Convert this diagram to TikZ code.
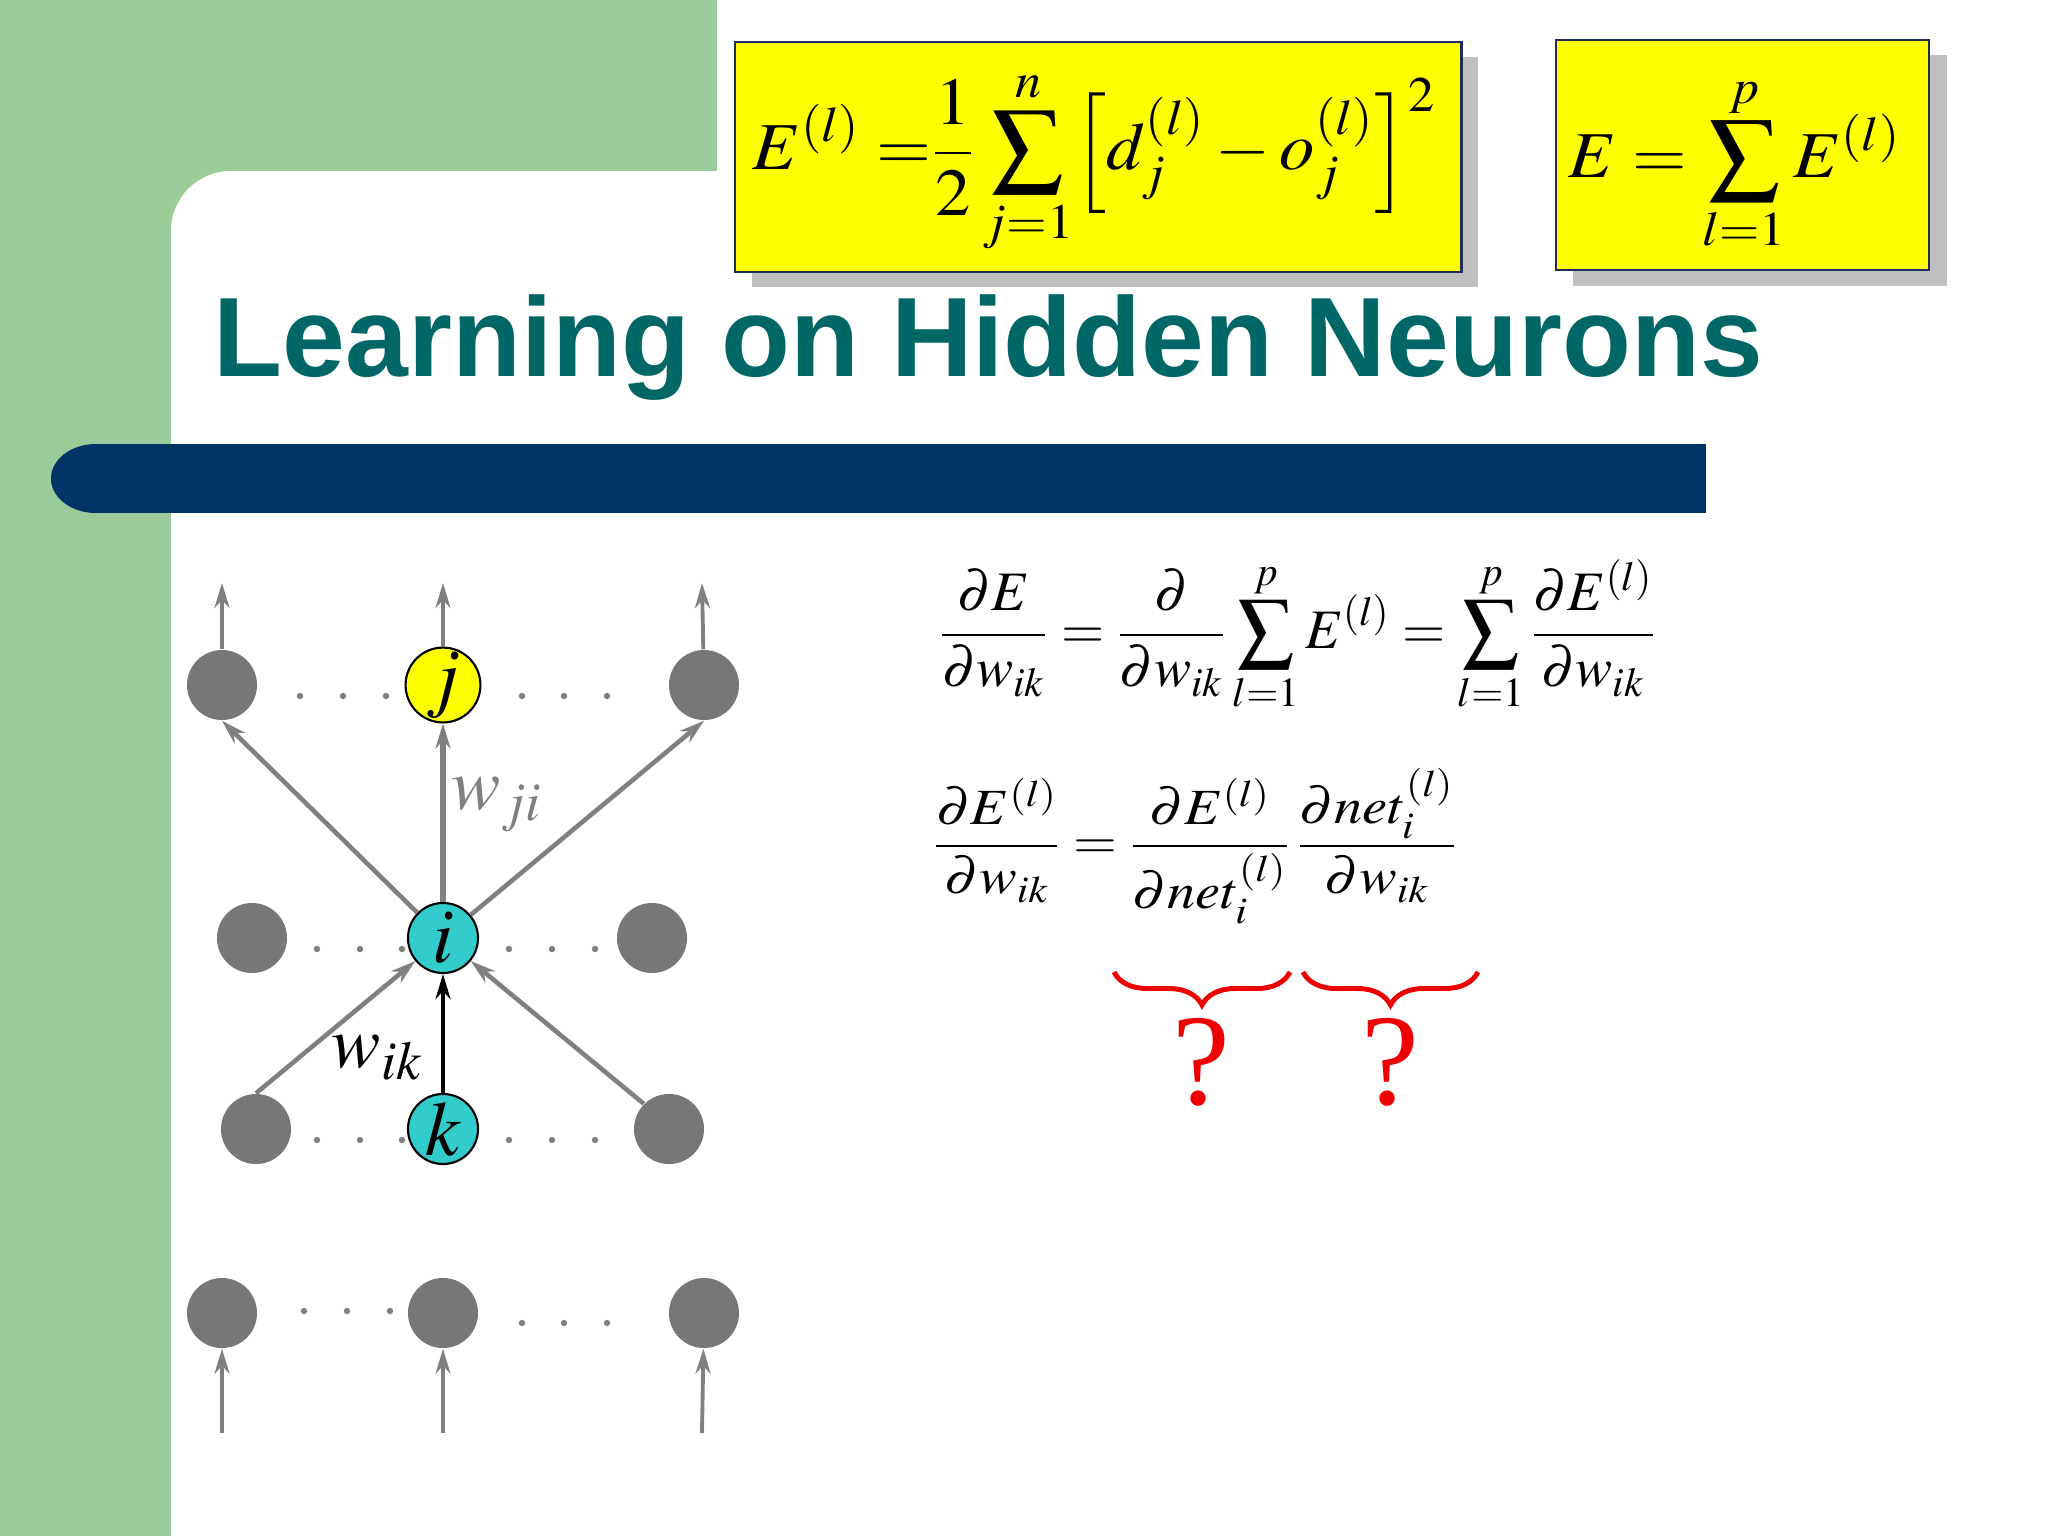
\documentclass[tikz,border=0pt]{standalone}
\usepackage{amsmath}
\usepackage{graphicx}
\usepackage{mathptmx}
\usepackage{fontspec}
\setmainfont{Liberation Serif}
\newfontfamily\titlefont{Liberation Sans}
\usetikzlibrary{arrows.meta,decorations.pathreplacing}
\definecolor{slidegreen}{RGB}{153,204,153}
\definecolor{barblue}{RGB}{0,51,102}
\definecolor{titleteal}{RGB}{0,102,102}
\definecolor{nodegray}{RGB}{119,119,119}
\definecolor{arrowgray}{RGB}{128,128,128}
\definecolor{neurocyan}{RGB}{51,204,204}
\definecolor{boxyellow}{RGB}{255,255,0}
\definecolor{boxborder}{RGB}{31,45,90}
\definecolor{shadowgray}{RGB}{192,192,192}
\definecolor{qred}{RGB}{238,0,0}
\begin{document}
\begin{tikzpicture}[x=0.01cm,y=-0.01cm,
  neuron/.style={circle, minimum size=0.7cm, inner sep=0, fill=nodegray, font=\fontsize{22}{22}\selectfont},
  hineuron/.style={neuron, draw=black, line width=0.6pt},
  garrow/.style={draw=arrowgray, line width=1.1pt, -{Stealth[length=0.25cm,width=0.15cm]}},
  barrow/.style={draw=black, line width=1.4pt, -{Stealth[length=0.25cm,width=0.15cm]}},
  fbox/.style={draw=boxborder, line width=0.6pt, fill=boxyellow, inner sep=0, anchor=north west},
  mathpart/.style={anchor=north west, inner sep=0, font=\fontsize{20}{24}\selectfont},
  qmark/.style={text=qred, inner sep=0, font=\fontsize{37}{40}\selectfont},
  redbrace/.style={draw=qred, line width=1.4pt, decorate, decoration={brace, amplitude=0.33cm, mirror}},
  ]
\useasboundingbox (0,0) rectangle (2048,1536);
% background
\fill[white] (0,0) rectangle (2048,1536);
\fill[slidegreen] (0,0) rectangle (717,1536);
\fill[white] (171,231) rectangle (2048,1536);
\fill[white] (231,171) rectangle (2048,1536);
\fill[white] (231,231) circle (0.6cm);
% blue bar
\fill[barblue] (96,444) rectangle (1706,513);
\fill[barblue] (96,478.5) ellipse [x radius=0.45cm, y radius=0.345cm];
% title
\node[anchor=base west, inner sep=0, text=titleteal, font=\titlefont\bfseries\fontsize{32.1}{36}\selectfont] (title) at (213,376) {Learning on Hidden Neurons};
% yellow boxes
\fill[shadowgray] (752,57) rectangle (1478,287);
\node[fbox, minimum width=7.26cm, minimum height=2.30cm] (box1) at (734,41) {};
\node[mathpart] (eqEl) at (752,69) {\resizebox*{6.83cm}{1.86cm}{$\displaystyle E^{(l)} \;{=}\frac{1}{2}\sum_{j=1}^{n}\Bigl[d_j^{(l)} - o_j^{(l)}\Bigr]^2$}};
\fill[shadowgray] (1573,55) rectangle (1947,286);
\node[fbox, minimum width=3.73cm, minimum height=2.30cm] (box2) at (1555,39) {};
\node[mathpart] (eqE) at (1568,75) {\resizebox*{3.32cm}{1.77cm}{$\displaystyle E = \sum_{l=1}^{p} E^{(l)}$}};
% right equations
\node[mathpart] (eq1) at (938,559) {\resizebox*{7.17cm}{1.53cm}{$\displaystyle \frac{\partial E}{\partial w_{ik}} = \frac{\partial}{\partial w_{ik}} \sum_{l=1}^{p} E^{(l)} = \sum_{l=1}^{p} \frac{\partial E^{(l)}}{\partial w_{ik}}$}};
\node[mathpart] (eq2) at (932,768) {\resizebox*{5.24cm}{1.55cm}{$\displaystyle \frac{\partial E^{(l)}}{\partial w_{ik}} = \frac{\partial E^{(l)}}{\partial net_i^{(l)}}\,\frac{\partial net_i^{(l)}}{\partial w_{ik}}$}};
\coordinate (br1a) at (1114,972); \coordinate (br1b) at (1290,972);
\coordinate (br2a) at (1303,972); \coordinate (br2b) at (1478,972);
\draw[redbrace] (br1a) -- (br1b);
\draw[redbrace] (br2a) -- (br2b);
\node[qmark] (q1) at (1201,1062) {?};
\node[qmark] (q2) at (1390,1062) {?};
% network nodes
\node[neuron] (t1) at (222,685) {};
\node[hineuron, fill=boxyellow] (j) at (443,685) {$j$};
\node[neuron] (t3) at (704,685) {};
\node[neuron] (h1) at (252,938) {};
\node[hineuron, fill=neurocyan] (i) at (443,938) {$i$};
\node[neuron] (h3) at (652,938) {};
\node[neuron] (m1) at (256,1129) {};
\node[hineuron, fill=neurocyan] (k) at (443,1129) {$k$};
\node[neuron] (m3) at (669,1129) {};
\node[neuron] (b1) at (222,1313) {};
\node[neuron] (b2) at (443,1313) {};
\node[neuron] (b3) at (704,1313) {};
% dots
\foreach \x/\y in {300/696,343/696,386/696,522/696,564/696,607/696,
                   317/949,360/949,402/949,509/949,552/949,595/949,
                   317/1140,360/1140,402/1140,509/1140,552/1140,595/1140,
                   304/1311,347/1311,390/1311,522/1323,564/1323,607/1323}
  \fill[arrowgray] (\x,\y) circle (0.032cm);
% outputs / inputs
\coordinate (o1) at (222,583); \coordinate (o2) at (443,583); \coordinate (o3) at (702,583);
\coordinate (n1) at (222,1433); \coordinate (n2) at (443,1433); \coordinate (n3) at (702,1433);
\draw[garrow] (t1) -- (o1);
\draw[garrow] (j) -- (o2);
\draw[garrow] (t3) -- (o3);
\draw[garrow] (n1) -- (b1);
\draw[garrow] (n2) -- (b2);
\draw[garrow] (n3) -- (b3);
% connections
\draw[garrow, line width=1.3pt] (i) -- (t1.south);
\draw[garrow, line width=1.5pt] (i) -- (j);
\draw[garrow, line width=1.3pt] (i) -- (t3.south);
\draw[garrow, line width=1.3pt] (m1.north) -- (i);
\draw[garrow, line width=1.3pt] (m3.north west) -- (i);
\draw[barrow] (k) -- (i);
% weight labels
\node[text=arrowgray, inner sep=0, anchor=west, font=\fontsize{21}{21}\selectfont] (wji) at (451,805) {$w_{ji}$};
\node[inner sep=0, anchor=east, font=\fontsize{21}{21}\selectfont] (wik) at (424,1058) {$w_{ik}$};
\end{tikzpicture}
\end{document}
